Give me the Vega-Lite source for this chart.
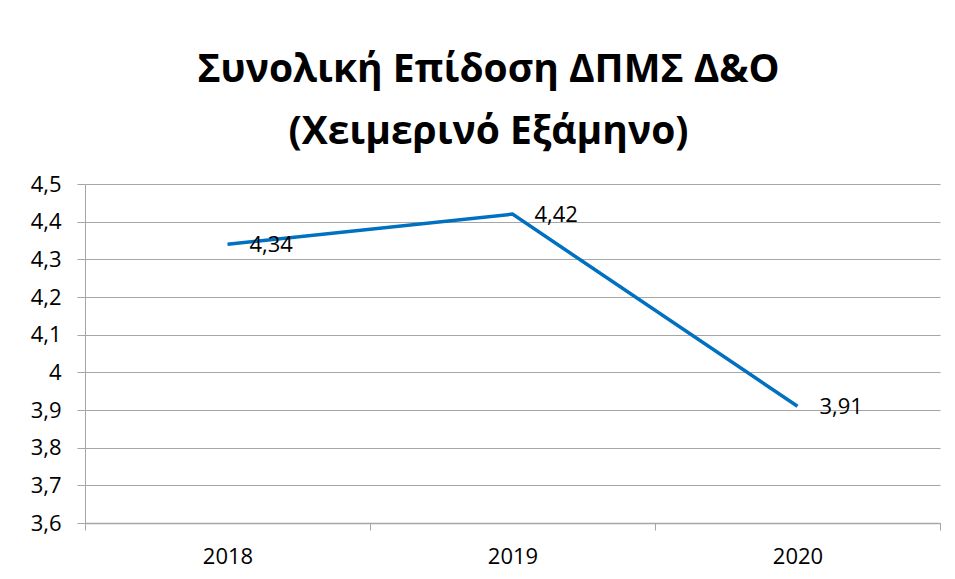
{
  "$schema": "https://vega.github.io/schema/vega-lite/v6.json",
  "autosize": {"type": "none"},
  "width": 855,
  "height": 339,
  "padding": {"left": 85, "top": 184, "right": 15, "bottom": 56},
  "background": "white",
  "config": {
    "font": "Open Sans",
    "view": {"stroke": null},
    "locale": {"number": {"decimal": ",", "thousands": ".", "grouping": [3], "currency": ["", " €"]}}
  },
  "title": {
    "text": ["Συνολική Επίδοση ΔΠΜΣ Δ&Ο", "(Χειμερινό Εξάμηνο)"],
    "font": "Open Sans",
    "fontSize": 39,
    "fontWeight": "bold",
    "color": "black",
    "anchor": "middle",
    "frame": "group",
    "dx": -24,
    "lineHeight": 62,
    "offset": 21
  },
  "data": {
    "values": [
      {"year": "2018", "score": 4.34},
      {"year": "2019", "score": 4.42},
      {"year": "2020", "score": 3.91}
    ]
  },
  "encoding": {
    "x": {
      "field": "year",
      "type": "nominal",
      "scale": {"type": "band", "paddingInner": 0, "paddingOuter": 0},
      "axis": {
        "title": null,
        "labelAngle": 0,
        "labelFont": "Open Sans",
        "labelFontSize": 22,
        "labelColor": "black",
        "labelPadding": 16,
        "tickBand": "extent",
        "tickSize": 7,
        "tickColor": "#a6a6a6",
        "domainColor": "#a6a6a6",
        "domainWidth": 1.5,
        "grid": false
      }
    },
    "y": {
      "field": "score",
      "type": "quantitative",
      "scale": {"domain": [3.6, 4.5], "nice": false, "zero": false},
      "axis": {
        "title": null,
        "values": [3.6, 3.7, 3.8, 3.9, 4.0, 4.1, 4.2, 4.3, 4.4, 4.5],
        "format": ".1~f",
        "labelFont": "Open Sans",
        "labelFontSize": 22,
        "labelColor": "black",
        "labelPadding": 16,
        "tickSize": 8,
        "tickColor": "#a6a6a6",
        "domainColor": "#a6a6a6",
        "gridColor": "#a6a6a6",
        "grid": true
      }
    }
  },
  "layer": [
    {
      "mark": {"type": "line", "color": "#0070C0", "strokeWidth": 3.5}
    },
    {
      "mark": {"type": "text", "align": "left", "baseline": "middle", "dx": 22, "dy": 1, "fontSize": 22, "font": "Open Sans", "color": "black"},
      "encoding": {"text": {"field": "score", "type": "quantitative", "format": ".2f"}}
    }
  ]
}
